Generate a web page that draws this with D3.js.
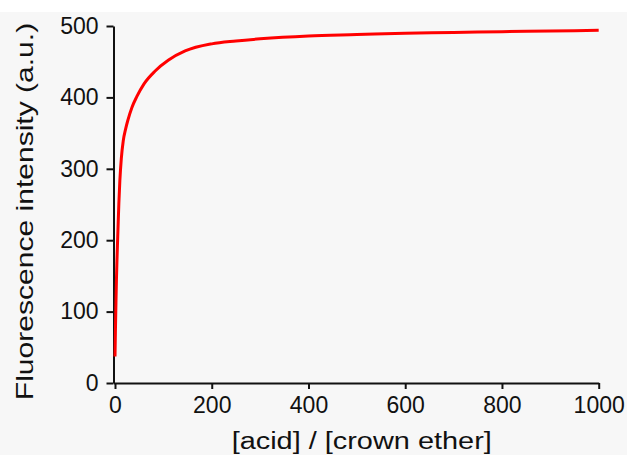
<!DOCTYPE html>
<html>
<head>
<meta charset="utf-8">
<script src="https://cdn.jsdelivr.net/npm/d3@7"></script>
<style>
  html, body { margin: 0; padding: 0; background: #f7f7f7; }
  svg { display: block; }
  text { font-family: "Liberation Sans", Arial, sans-serif; fill: #111; }
</style>
</head>
<body>
<svg id="chart" width="627" height="455"></svg>
<script>
// Titration: fluorescence vs. acid / crown ether ratio
const ratio = [0, 1, 2, 3, 4, 5, 6, 8, 10, 13, 17, 22, 27, 35, 45, 60, 83, 110, 145, 200, 250, 300, 400, 500, 600, 700, 800, 900, 1000];
const intensity = [37, 78, 113, 145, 170, 192, 212, 252, 283, 314, 339, 356, 369, 386, 401, 419, 437, 452, 465, 475, 479, 482, 486, 488, 490, 491, 492, 493, 494];
const xTicks = [0, 200, 400, 600, 800, 1000];
const yTicks = [0, 100, 200, 300, 400, 500];
const xTitle = "[acid] / [crown ether]";
const yTitle = "Fluorescence intensity (a.u.)";

const svg = d3.select("#chart");
const W = 627, H = 455;

svg.append("rect").attr("width", W).attr("height", H).attr("fill", "#f7f7f7");
svg.append("rect").attr("width", W).attr("height", 12).attr("fill", "#ffffff");

const x = d3.scaleLinear().domain([-3.1, 1000]).range([113.5, 598.7]);
const y = d3.scaleLinear().domain([0, 500]).range([383, 26]);

const xAxis = svg.append("g")
  .attr("transform", `translate(0,${y(0)})`)
  .call(d3.axisBottom(x).tickValues(xTicks).tickFormat(d3.format("d"))
    .tickSize(6).tickPadding(8).tickSizeOuter(0));
const yAxis = svg.append("g")
  .attr("transform", `translate(${x.range()[0]},0)`)
  .call(d3.axisLeft(y).tickValues(yTicks).tickFormat(d3.format("d"))
    .tickSize(7).tickPadding(8).tickSizeOuter(0));

[xAxis, yAxis].forEach(g => {
  g.select(".domain").attr("stroke", "#111").attr("stroke-width", 2);
  g.selectAll(".tick line").attr("stroke", "#111").attr("stroke-width", 2);
  g.selectAll(".tick text")
    .attr("font-family", "Liberation Sans, Arial, sans-serif")
    .attr("font-size", 23).attr("fill", "#111");
});

// binding curve
const line = d3.line()
  .x((d, i) => x(ratio[i]))
  .y(d => y(d))
  .curve(d3.curveMonotoneX);

svg.append("path")
  .datum(intensity)
  .attr("d", line)
  .attr("fill", "none")
  .attr("stroke", "#ff0000")
  .attr("stroke-width", 3)
  .attr("stroke-linejoin", "round");

// axis titles (wide-set lettering)
svg.append("text")
  .attr("transform", "translate(361.7,449) scale(1.17,1)")
  .attr("text-anchor", "middle")
  .attr("font-size", 24.7)
  .text(xTitle);

svg.append("text")
  .attr("transform", "translate(33,211.5) rotate(-90) scale(1.29,1)")
  .attr("text-anchor", "middle")
  .attr("font-size", 23.3)
  .text(yTitle);
</script>
</body>
</html>
